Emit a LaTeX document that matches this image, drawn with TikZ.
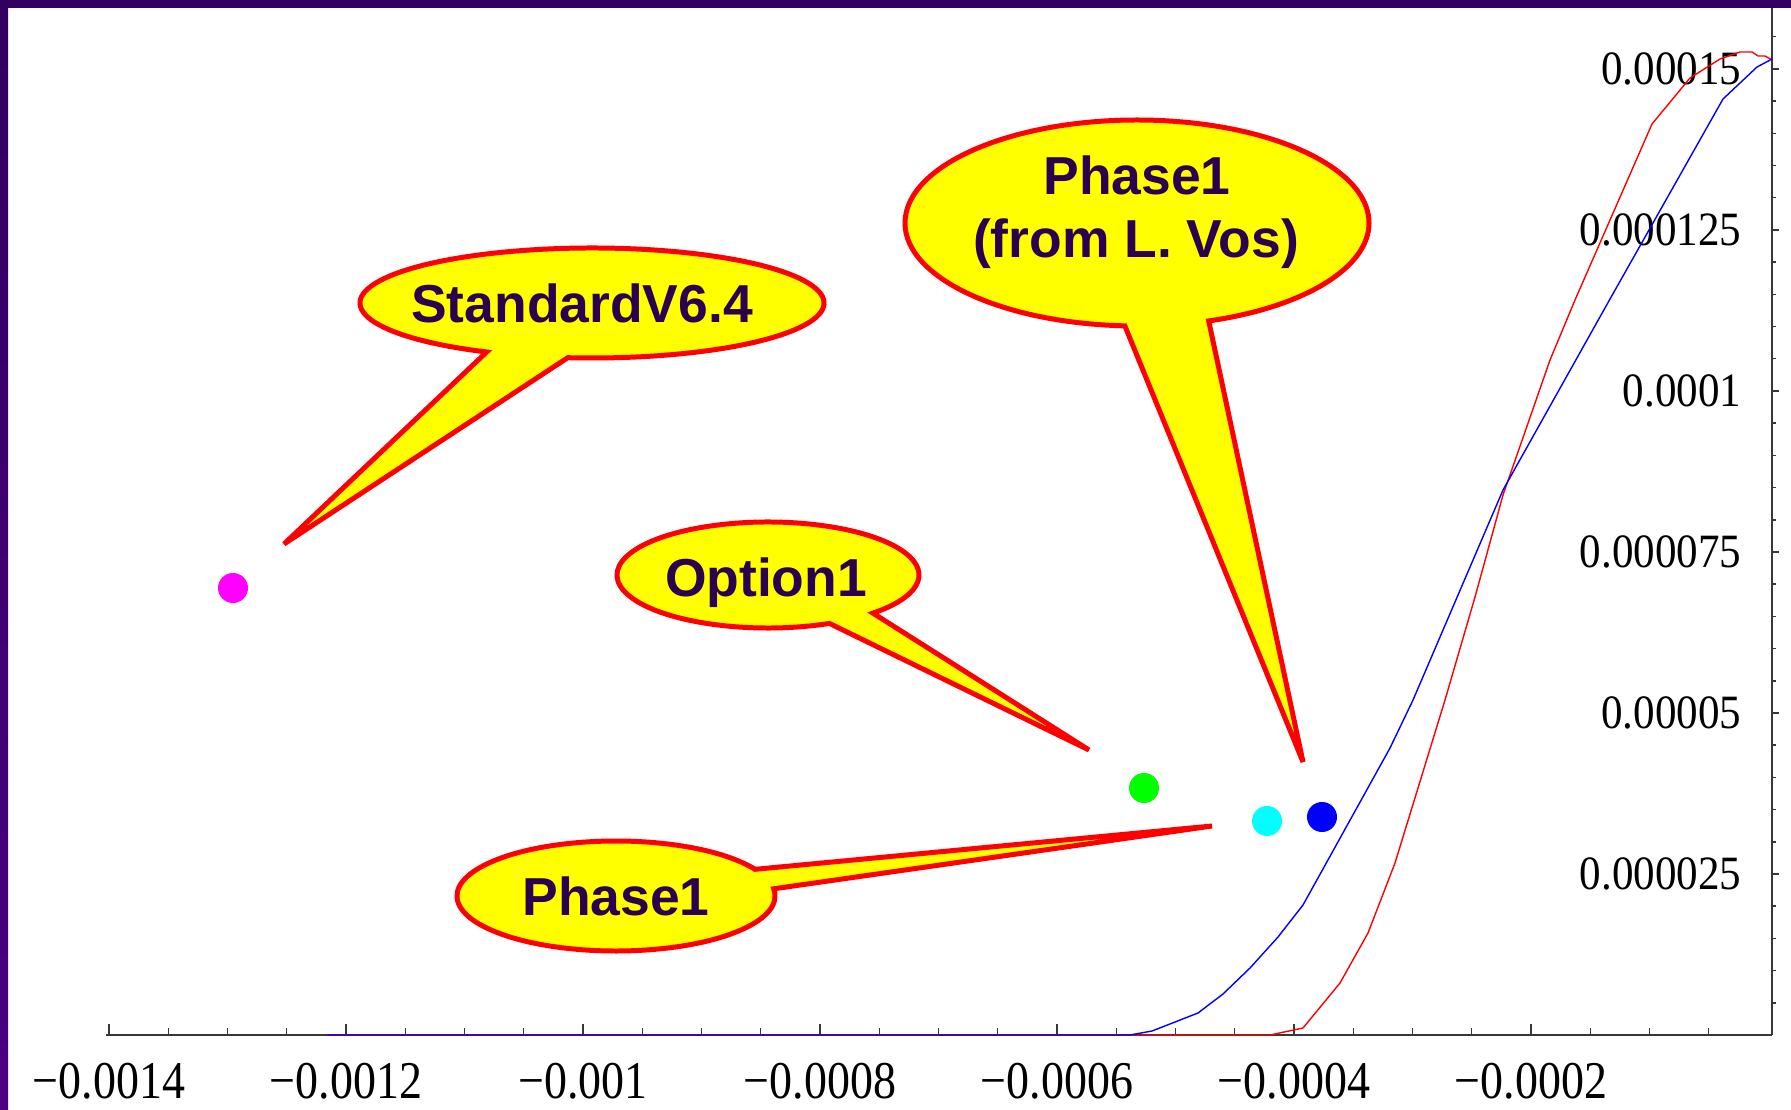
\documentclass[tikz,border=0pt]{standalone}
\usepackage{fontspec}
\newfontfamily\calloutfont{Liberation Sans}
\newfontfamily\tickfont{Liberation Serif}
\definecolor{txtpurple}{RGB}{42,0,80}
\definecolor{axisgray}{RGB}{55,55,55}
\definecolor{bandtop}{RGB}{50,0,95}
\definecolor{bandbot}{RGB}{75,0,130}
\definecolor{cyellow}{RGB}{255,255,0}
\definecolor{cred}{RGB}{255,0,0}
\definecolor{cmag}{RGB}{255,0,255}
\definecolor{cgreen}{RGB}{0,255,0}
\definecolor{ccyan}{RGB}{0,255,255}
\definecolor{cblue}{RGB}{0,0,255}
\begin{document}
\begin{tikzpicture}[x=0.01cm,y=-0.01cm,
  callout/.style={draw=cred, fill=cyellow, line width=1.42pt, line join=miter, miter limit=10},
  ctext/.style={font=\calloutfont\bfseries\fontsize{15.2}{18}\selectfont, text=txtpurple, inner sep=0, anchor=base},
  ylab/.style={font=\tickfont\fontsize{13.6}{16}\selectfont, inner sep=0, anchor=east},
  xlab/.style={font=\tickfont\fontsize{15.1}{18}\selectfont, inner sep=0, anchor=north},
  dot/.style={circle, inner sep=0, minimum size=0.3cm},
  axisline/.style={draw=axisgray, line width=0.55pt},
  tickline/.style={draw=axisgray, line width=0.4pt},
  curve/.style={line width=0.4pt, line join=round}]
\useasboundingbox (0,0) rectangle (1791,1110);
\fill[white] (0,0) rectangle (1791,1110);
% frame bands
\shade[top color=bandtop, bottom color=bandbot] (0,0) rectangle (8,1110);
\fill[bandtop] (0,0) rectangle (1791,8);

% axes
\draw[axisline] (106,1035) -- (1772,1035);
\draw[axisline] (1772,1035) -- (1772,8);
% x ticks
\foreach \i in {1,...,27} {
  \pgfmathsetmacro\xx{109+\i*59.25}
  \draw[tickline] (\xx,1035) -- (\xx,1028);
}
\foreach \x in {109,346,583,820,1057,1294,1531} {
  \draw[tickline] (\x,1035) -- (\x,1024);
}
% y ticks
\foreach \j in {1,...,31} {
  \pgfmathsetmacro\yy{1035-\j*32.2}
  \draw[tickline] (1772,\yy) -- (1776,\yy);
}
\foreach \y in {874,713,552,391,230,69} {
  \draw[tickline] (1772,\y) -- (1779,\y);
}
% y labels
\node[ylab] (y1) at (1742,69) {\scalebox{0.9}[1]{0.00015}};
\node[ylab] (y2) at (1742,230) {\scalebox{0.9}[1]{0.000125}};
\node[ylab] (y3) at (1742,391) {\scalebox{0.9}[1]{0.0001}};
\node[ylab] (y4) at (1742,552) {\scalebox{0.9}[1]{0.000075}};
\node[ylab] (y5) at (1742,713) {\scalebox{0.9}[1]{0.00005}};
\node[ylab] (y6) at (1742,874) {\scalebox{0.9}[1]{0.000025}};
% x labels
\node[xlab] (x1) at (109,1062) {\scalebox{0.865}[1]{−0.0014}};
\node[xlab] (x2) at (346,1062) {\scalebox{0.865}[1]{−0.0012}};
\node[xlab] (x3) at (583,1062) {\scalebox{0.865}[1]{−0.001}};
\node[xlab] (x4) at (820,1062) {\scalebox{0.865}[1]{−0.0008}};
\node[xlab] (x5) at (1057,1062) {\scalebox{0.865}[1]{−0.0006}};
\node[xlab] (x6) at (1294,1062) {\scalebox{0.865}[1]{−0.0004}};
\node[xlab] (x7) at (1531,1062) {\scalebox{0.865}[1]{−0.0002}};

% curves
\draw[curve, cred] (327,1035) -- (1270,1035) -- (1303,1028) -- (1340,983) -- (1368,933) -- (1395,863)
  -- (1445,700) -- (1475,597) -- (1503,495) -- (1550,360) -- (1575,300) -- (1652,124) -- (1690,78)
  -- (1720,59) -- (1740,52) -- (1752,52) -- (1758,56) -- (1765,56) -- (1772,60);
\draw[curve, cblue] (327,1035) -- (1130,1035) -- (1152,1031) -- (1198,1013) -- (1223,994) -- (1250,968)
  -- (1278,937) -- (1303,905) -- (1390,748) -- (1413,700) -- (1503,490) -- (1610,299) -- (1723,99)
  -- (1757,67) -- (1772,59);

% data points
\node[dot, fill=cmag] (pstd) at (233,588) {};
\node[dot, fill=cgreen] (popt) at (1144,788) {};
\node[dot, fill=ccyan] (pph) at (1267,821) {};
\node[dot, fill=cblue] (pvos) at (1322,817) {};

% callouts
\coordinate (tipstd) at (284,544);
\coordinate (tipopt) at (1089,750);
\coordinate (tipvos) at (1303,762);
\coordinate (tipph) at (1212,826);
\draw[callout] (tipstd) -- ([shift={(117:232 and 55)}]592,303)
  arc[start angle=117, end angle=456, x radius=232, y radius=55] -- cycle;
\draw[callout] (tipopt) -- ([shift={(66:151 and 53)}]768,575)
  arc[start angle=66, end angle=406, x radius=151, y radius=53] -- cycle;
\draw[callout] (tipvos) -- ([shift={(93:232 and 103)}]1137,223)
  arc[start angle=93, end angle=432, x radius=232, y radius=103] -- cycle;
\draw[callout] (tipph) -- ([shift={(-7.5:159 and 55)}]616,896)
  arc[start angle=-7.5, end angle=331, x radius=159, y radius=55] -- cycle;

% callout texts
\node[ctext] (tstd) at (582,323) {StandardV6.4};
\node[ctext] (topt) at (766,597) {Option1};
\node[ctext] (tvos1) at (1137,195) {Phase1};
\node[ctext] (tvos2) at (1136,258) {(from L. Vos)};
\node[ctext] (tph) at (616,915) {Phase1};
\end{tikzpicture}
\end{document}
